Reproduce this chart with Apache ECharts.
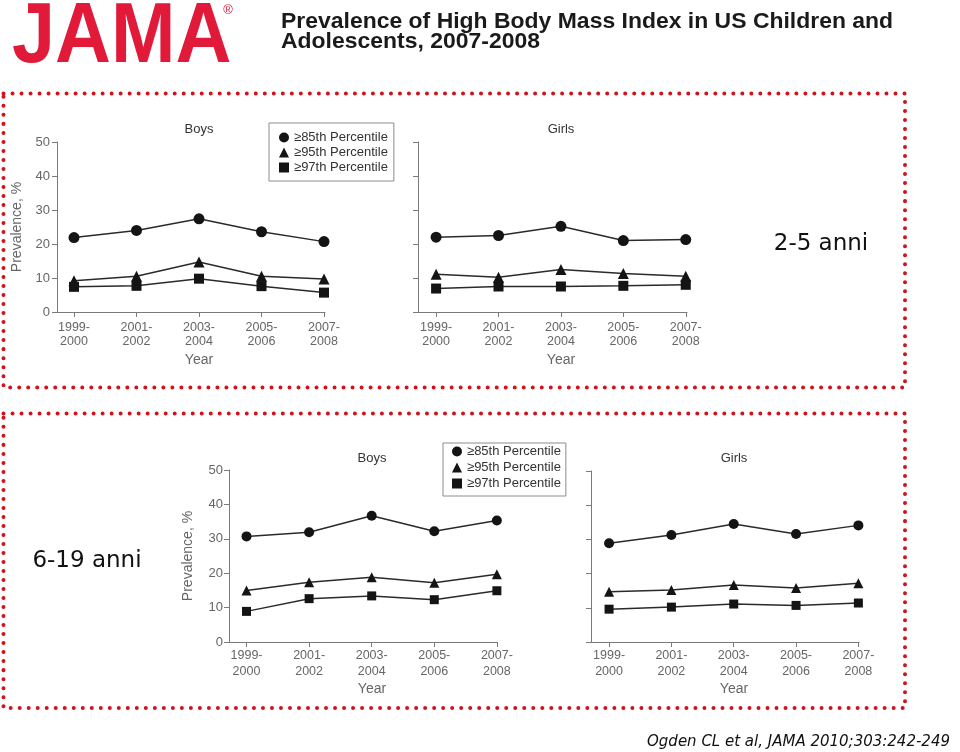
<!DOCTYPE html>
<html>
<head>
<meta charset="utf-8">
<script src="https://cdn.jsdelivr.net/npm/echarts@6.0.0/dist/echarts.min.js"></script>
<style>
html,body{margin:0;padding:0;background:#fff;}
#chart{width:960px;height:752px;}
</style>
</head>
<body>
<div id="chart"></div>
<script>
// ---- data ----
const categories = ['1999-\n2000', '2001-\n2002', '2003-\n2004', '2005-\n2006', '2007-\n2008'];
const seriesNames = ['\u226585th Percentile', '\u226595th Percentile', '\u226597th Percentile'];
const yTicks = [0, 10, 20, 30, 40, 50];

// ages 2-5
const boys25_85 = [21.9, 24.0, 27.4, 23.6, 20.7];
const boys25_95 = [9.2, 10.5, 14.7, 10.5, 9.7];
const boys25_97 = [7.4, 7.7, 9.8, 7.6, 5.7];
const girls25_85 = [22.0, 22.5, 25.2, 21.0, 21.3];
const girls25_95 = [11.1, 10.2, 12.5, 11.3, 10.5];
const girls25_97 = [6.9, 7.5, 7.5, 7.7, 8.0];
// ages 6-19
const boys619_85 = [30.7, 31.9, 36.7, 32.2, 35.3];
const boys619_95 = [15.0, 17.4, 18.8, 17.2, 19.7];
const boys619_97 = [8.9, 12.6, 13.4, 12.3, 14.9];
const girls619_85 = [28.9, 31.3, 34.5, 31.6, 34.1];
const girls619_95 = [14.7, 15.2, 16.7, 15.8, 17.2];
const girls619_97 = [9.6, 10.2, 11.1, 10.7, 11.4];

// ---- layout ----
const FONT = "'Liberation Sans', Arial, Helvetica, sans-serif";
const AXIS_COLOR = '#7a7a7a';
const LABEL_COLOR = '#666';
const panels = [
  { left: 57,  top: 142, width: 268, height: 170, min: -0.272, max: 4.016, yName: 'Prevalence, %', nameGap: 33, labelMargin: 7, lineHeight: 14, margin: 9, sym: [11, 11, 10], data: [boys25_85, boys25_95, boys25_97] },
  { left: 418, top: 142, width: 269, height: 170, min: -0.29,  max: 4.02,  yName: '', nameGap: 0, labelMargin: 7, lineHeight: 14, margin: 9, sym: [11, 11, 10], data: [girls25_85, girls25_95, girls25_97] },
  { left: 229, top: 470, width: 268.5, height: 172, min: -0.28, max: 4.01, yName: 'Prevalence, %', nameGap: 34, labelMargin: 6, lineHeight: 16, margin: 6, sym: [10, 10, 9], data: [boys619_85, boys619_95, boys619_97] },
  { left: 591, top: 471, width: 268, height: 171, min: -0.29,  max: 4.01,  yName: '', nameGap: 0, labelMargin: 6, lineHeight: 16, margin: 6, sym: [10, 10, 9], data: [girls619_85, girls619_95, girls619_97] }
];
const symbols = ['circle', 'triangle', 'rect'];
const idx = categories.map((c, i) => i);

const grid = [], xAxis = [], yAxis = [], series = [];
panels.forEach((p, g) => {
  grid.push({ left: p.left, top: p.top, width: p.width, height: p.height, containLabel: false });
  xAxis.push({
    type: 'value', gridIndex: g, min: p.min, max: p.max,
    splitLine: { show: false },
    axisLine: { show: true, onZero: false, lineStyle: { color: AXIS_COLOR, width: 1 } },
    axisTick: { show: true, customValues: idx, length: 5, lineStyle: { color: AXIS_COLOR } },
    axisLabel: {
      show: true, customValues: idx, formatter: v => categories[Math.round(v)],
      color: LABEL_COLOR, fontFamily: FONT, fontSize: 12.5, lineHeight: p.lineHeight, margin: p.margin
    }
  });
  yAxis.push({
    type: 'value', gridIndex: g, min: 0, max: 50, interval: 10,
    splitLine: { show: false },
    axisLine: { show: true, onZero: false, lineStyle: { color: AXIS_COLOR, width: 1 } },
    axisTick: { show: true, length: 5, lineStyle: { color: AXIS_COLOR } },
    axisLabel: { show: p.yName !== '', color: LABEL_COLOR, fontFamily: FONT, fontSize: 13, margin: p.labelMargin },
    name: p.yName, nameLocation: 'middle', nameGap: p.nameGap,
    nameTextStyle: { color: LABEL_COLOR, fontFamily: FONT, fontSize: 14 }
  });
  p.data.forEach((vals, k) => {
    series.push({
      name: seriesNames[k], type: 'line', xAxisIndex: g, yAxisIndex: g,
      data: vals.map((v, i) => [i, v]),
      symbol: symbols[k], symbolSize: p.sym[k], showAllSymbol: true,
      itemStyle: { color: '#141414', borderWidth: 0 },
      lineStyle: { color: '#2a2a2a', width: 1.5 },
      emphasis: { disabled: true }, animation: false
    });
  });
});

const legendBase = {
  orient: 'vertical', itemWidth: 10, itemHeight: 10,
  borderColor: '#8c8c8c', borderWidth: 1, backgroundColor: '#fff',
  textStyle: { color: '#333', fontFamily: FONT, fontSize: 13 },
  data: seriesNames.map((n, k) => ({ name: n, icon: symbols[k] })),
  selectedMode: false
};
const legend = [
  Object.assign({}, legendBase, { left: 269, top: 123, itemGap: 2, padding: [8, 6, 7, 10] }),
  Object.assign({}, legendBase, { left: 443, top: 443, itemGap: 3, padding: [2, 5, 6, 9] })
];

function txt(x, y, text, opts) {
  return Object.assign({
    type: 'text', x: x, y: y, silent: true,
    style: Object.assign({
      text: text, fill: '#333', fontFamily: FONT, fontSize: 13,
      align: 'center', verticalAlign: 'middle', textAlign: 'center', textVerticalAlign: 'middle'
    }, opts || {})
  });
}
const frameStyle = { fill: 'none', stroke: '#d0121b', lineWidth: 4, lineDash: [0.01, 9], lineCap: 'round' };

const graphic = [
  { type: 'rect', silent: true, shape: { x: 3.5, y: 93.5, width: 901.5, height: 294 }, style: frameStyle },
  { type: 'rect', silent: true, shape: { x: 3.5, y: 413.5, width: 901.5, height: 294.5 }, style: frameStyle },
  Object.assign(txt(12, 38, 'JAMA', { fill: '#e21a3a', fontSize: 86, fontWeight: 'bold', align: 'left', textAlign: 'left' }), { scaleX: 0.9 }),
  txt(228, 10, '\u00ae', { fill: '#e21a3a', fontSize: 13, fontWeight: 'normal' }),
  Object.assign(txt(281, 22, 'Prevalence of High Body Mass Index in US Children and', { fill: '#1a1a1a', fontSize: 22.5, fontWeight: 'bold', align: 'left', textAlign: 'left' }), { scaleX: 1.02 }),
  Object.assign(txt(281, 41.5, 'Adolescents, 2007-2008', { fill: '#1a1a1a', fontSize: 22.5, fontWeight: 'bold', align: 'left', textAlign: 'left' }), { scaleX: 1.02 }),
  txt(199, 129, 'Boys'), txt(561, 129, 'Girls'),
  txt(372, 458, 'Boys'), txt(734, 458, 'Girls'),
  txt(199, 360, 'Year', { fill: LABEL_COLOR, fontSize: 14 }), txt(561, 360, 'Year', { fill: LABEL_COLOR, fontSize: 14 }),
  txt(372, 689, 'Year', { fill: LABEL_COLOR, fontSize: 14 }), txt(734, 689, 'Year', { fill: LABEL_COLOR, fontSize: 14 }),
  txt(821, 244, '2-5 anni', { fill: '#111', fontSize: 23, fontFamily: 'DejaVu Sans' }),
  txt(87, 561, '6-19 anni', { fill: '#111', fontSize: 23, fontFamily: 'DejaVu Sans' }),
  txt(950, 742, 'Ogden CL et al, JAMA 2010;303:242-249', { fill: '#111', fontSize: 15, fontFamily: 'DejaVu Sans', fontStyle: 'italic', align: 'right', textAlign: 'right' })
];

const chart = echarts.init(document.getElementById('chart'), null, { renderer: 'canvas' });
chart.setOption({
  backgroundColor: '#ffffff',
  animation: false,
  grid: grid, xAxis: xAxis, yAxis: yAxis, series: series,
  legend: legend, graphic: graphic
});
</script>
</body>
</html>
